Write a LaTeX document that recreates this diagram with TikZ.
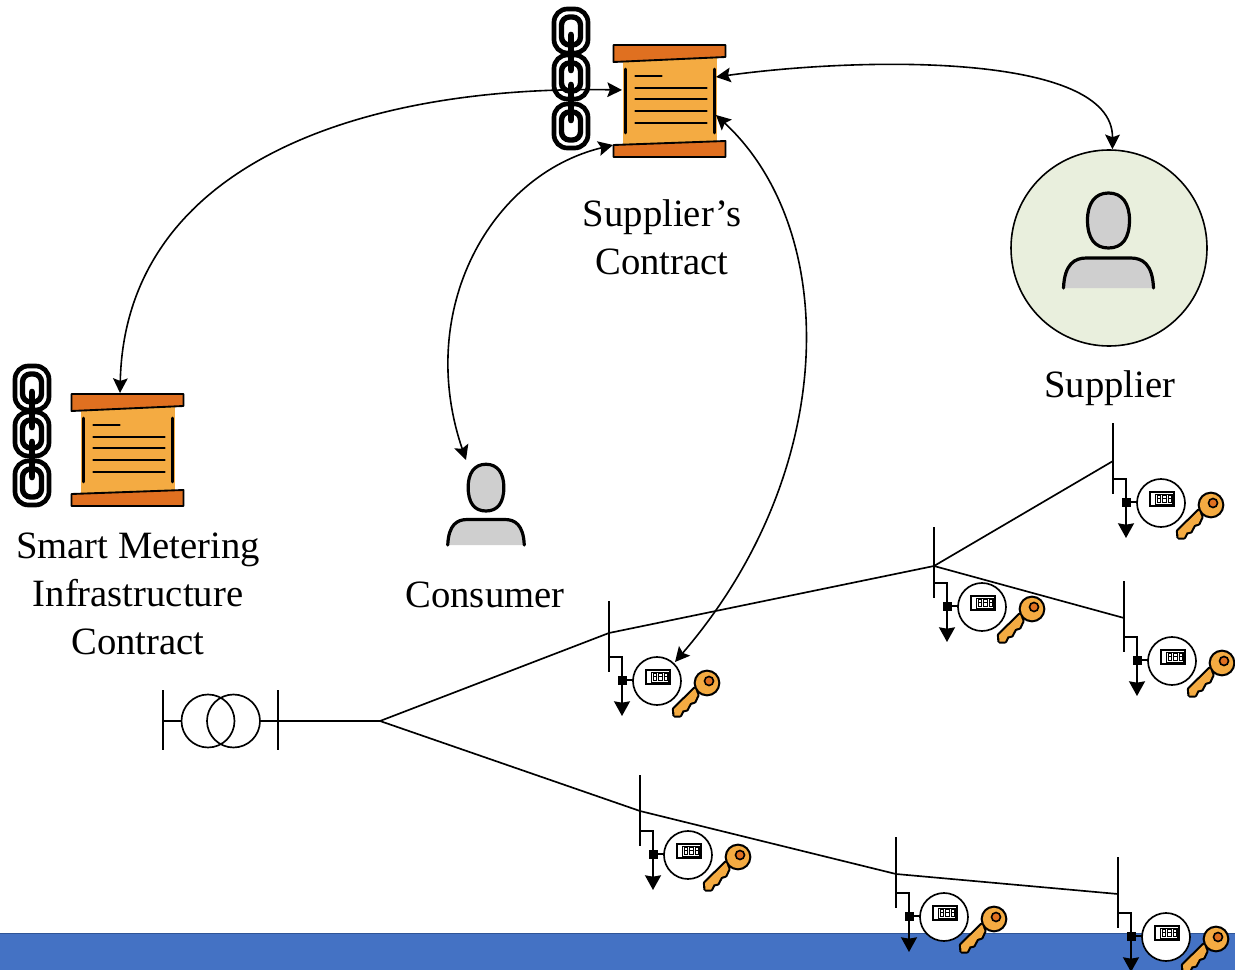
\documentclass[tikz,border=0pt]{standalone}
\usepackage{fontspec}
\setmainfont{Liberation Serif}
\usetikzlibrary{arrows.meta}
\definecolor{barblue}{HTML}{4472C4}
\definecolor{baredge}{HTML}{2F5597}
\definecolor{paperor}{HTML}{F4AB42}
\definecolor{baror}{HTML}{E07020}
\definecolor{persongrey}{HTML}{CFCFCF}
\definecolor{supgreen}{HTML}{E9EFDD}
\tikzset{
  x=0.75pt,y=-0.75pt,
  wire/.style={line width=1.25pt,black},
  link/.style={line width=1.2pt,black,{Stealth[length=11pt,width=11pt,inset=2pt]}-{Stealth[length=11pt,width=11pt,inset=2pt]}},
  lab/.style={font=\fontsize{29}{36}\selectfont,align=center,inner sep=0pt},
  meterunit/.pic={
    \draw[wire] (-13,-79) -- (-13,-8);
    \draw[wire] (-13,-23) -- (0,-23) -- (0,0);
    \draw[wire,-{Stealth[length=11pt,width=12pt,inset=1pt]}] (0,0) -- (0,36);
    \draw[wire] (0,0) -- (12,0);
    \fill[black] (-4.5,-4.5) rectangle (4.5,4.5);
    \draw[wire,fill=white] (35,1) circle (24);
    \draw[line width=1.1pt,fill=white] (24,-10) rectangle (48,4);
    \draw[line width=.7pt] (29,-8) rectangle (46,2);
    \foreach \gx in {31,36.5,42}{
      \draw[line width=.5pt] (\gx,-7) rectangle +(3.5,3.5);
      \draw[line width=.5pt] (\gx,-3.5) rectangle +(3.5,3.5);
    }
    \draw[line width=3.2pt,line join=round] (73,8.5) -- (52,29) -- (52.5,35.5) -- (58,35.5) -- (60.5,30.5) -- (64.7,29.5) -- (68,23) -- (72.5,21.5) -- (75.5,15) -- cycle;
    \draw[line width=3.2pt] (85,3) circle (11.2);
    \fill[paperor] (73,8.5) -- (52,29) -- (52.5,35.5) -- (58,35.5) -- (60.5,30.5) -- (64.7,29.5) -- (68,23) -- (72.5,21.5) -- (75.5,15) -- cycle;
    \fill[paperor] (85,3) circle (11.2);
    \draw[line width=1.2pt,fill=baror] (87,1) circle (4.5);
  },
  contract/.pic={
    \fill[paperor] (9,8) rectangle (103,100);
    \draw[line width=1.4pt,fill=baror,line join=round] (0,0) -- (112,0) -- (112,12) -- (0,17) -- cycle;
    \draw[line width=1.4pt,fill=baror,line join=round] (0,100) -- (112,96) -- (112,112) -- (0,112) -- cycle;
    \draw[line width=1.9pt,line cap=round] (12,24) -- (12,88);
    \draw[line width=1.9pt,line cap=round] (101,24) -- (101,88);
    \draw[line width=1.9pt,line cap=round] (22,31) -- (48,31);
    \foreach \ly in {43,54,66,78}{\draw[line width=1.9pt,line cap=round] (22,\ly) -- (93,\ly);}
  },
  chain/.pic={
    \foreach \cy in {0,46,95}{
      \draw[line width=3.5pt,rounded corners=10pt] (-17,\cy-22) rectangle (17,\cy+22);
      \draw[line width=4pt,rounded corners=6pt] (-9.5,\cy-14) rectangle (9.5,\cy+14);
    }
    \draw[line width=5pt,line cap=round] (0,4) -- (0,39);
    \draw[line width=5pt,line cap=round] (0,54) -- (0,89);
  },
  person/.pic={
    \fill[persongrey] (-45,40) .. controls (-44,16) and (-34,10) .. (-22,10) -- (22,10) .. controls (34,10) and (44,16) .. (45,40) -- cycle;
    \draw[line width=2.4pt,line cap=round] (-45,40) .. controls (-44,16) and (-34,10) .. (-22,10) -- (22,10) .. controls (34,10) and (44,16) .. (45,40);
    \draw[line width=2.4pt,fill=persongrey] (0,-55) .. controls (14,-55) and (21,-44) .. (21,-28) .. controls (21,-10) and (14,0) .. (0,0) .. controls (-14,0) and (-21,-10) .. (-21,-28) .. controls (-21,-44) and (-14,-55) .. (0,-55) -- cycle;
  }
}
\begin{document}
\begin{tikzpicture}
\useasboundingbox (0,0) rectangle (1235,970);
\clip (0,0) rectangle (1235,970);
\fill[barblue] (0,933) rectangle (1235,970);
\draw[baredge,line width=1pt] (0,933.5) -- (1235,933.5);

% network
\draw[wire] (163,690) -- (163,750);
\draw[wire] (278,690) -- (278,750);
\draw[wire] (163,721) -- (182,721);
\draw[wire] (208,721) circle (26.5);
\draw[wire] (233.5,721) circle (26.5);
\coordinate (fork) at (380,721);
\draw[wire] (260,721) -- (fork);
\draw[wire] (fork) -- (609,633) -- (934,566) -- (1113,461);
\draw[wire] (934,566) -- (1124,618);
\draw[wire] (fork) -- (640,811) -- (896,874) -- (1118,894);

\pic at (622,680) {meterunit};
\pic at (1126,502) {meterunit};
\pic at (947,606) {meterunit};
\pic at (1137,660) {meterunit};
\pic at (653,854) {meterunit};
\pic at (909,916) {meterunit};
\pic at (1131,936) {meterunit};

% contracts
\pic at (571,31) {chain};
\pic at (613.5,45) {contract};
\pic at (32,388) {chain};
\pic at (71.5,394) {contract};

% people
\node[circle,draw=black,line width=1.2pt,fill=supgreen,minimum size=147pt,inner sep=0pt] (supplier) at (1109,248) {};
\pic at (1108.5,248) {person};
\pic[scale=.85] at (486,511) {person};

% labels
\node[lab] (lsc) at (662,237) {Supplier’s\\Contract};
\node[lab] (lsup) at (1110,388) {Supplier};
\node[lab] (lcon) at (485,595) {Consumer};
\node[lab] (lsm) at (138,594) {Smart Metering\\Infrastructure\\Contract};

% connectors
\coordinate (cw) at (622,90);
\coordinate (cws) at (613,145);
\coordinate (ceu) at (716,77);
\coordinate (cel) at (716,115);
\coordinate (smc) at (120,393);
\coordinate (cons) at (466,460);
\coordinate (m1) at (675,662);
\draw[link] (cw) .. controls (350,85) and (125,170) .. (smc);
\draw[link] (cws) .. controls (490,175) and (415,310) .. (cons);
\draw[link] (cel) .. controls (840,230) and (840,470) .. (m1);
\draw[link] (ceu) .. controls (860,57) and (1113,52) .. (supplier.88);
\end{tikzpicture}
\end{document}
